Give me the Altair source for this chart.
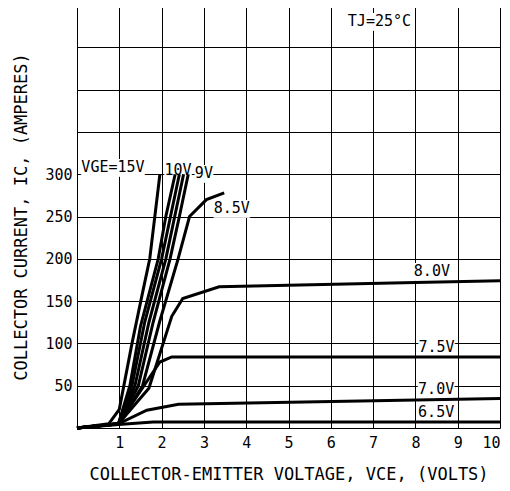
import altair as alt
import pandas as pd

# ---- data ----
curve_names = ["15V", "12V", "11V", "10V", "9V", "8.5V", "8.0V", "7.5V", "7.0V", "6.5V"]

vce_15 = [0, 0.75, 1.0, 1.3, 1.55, 1.72, 1.96]
ic_15 = [0, 5, 22, 100, 160, 200, 300]

vce_a = [0, 0.98, 1.25, 1.5, 1.92, 2.10, 2.32]
ic_a = [0, 5, 50, 120, 200, 250, 300]

vce_b = [0, 0.98, 1.3, 1.6, 2.0, 2.21, 2.42]
ic_b = [0, 5, 50, 125, 200, 250, 300]

vce_c = [0, 0.98, 1.37, 1.7, 2.1, 2.31, 2.52]
ic_c = [0, 5, 50, 125, 200, 250, 300]

vce_9 = [0, 0.98, 1.45, 1.8, 2.2, 2.42, 2.63]
ic_9 = [0, 5, 50, 125, 200, 250, 300]

vce_85 = [0, 0.98, 1.55, 1.95, 2.39, 2.66, 3.06, 3.48]
ic_85 = [0, 5, 50, 125, 200, 250, 270, 278]

vce_80 = [0, 0.98, 1.7, 2.24, 2.5, 3.36, 8.0, 10.0]
ic_80 = [0, 5, 47, 132, 153, 167, 172, 174]

vce_75 = [0, 0.98, 1.96, 2.24, 10.0]
ic_75 = [0, 5, 78, 84, 84]

vce_70 = [0, 0.98, 1.65, 2.4, 10.0]
ic_70 = [0, 5, 21, 28, 35]

vce_65 = [0, 0.98, 1.8, 10.0]
ic_65 = [0, 4, 7, 7]

label_text = ["VGE=15V", "10V", "9V", "8.5V", "8.0V", "7.5V", "7.0V", "6.5V", "TJ=25°C"]
label_x = [0.85, 2.39, 3.0, 3.66, 8.39, 8.5, 8.49, 8.49, 7.15]
label_y = [309, 305, 301, 260, 186, 96, 46.5, 19.5, 481]

x_ticks = list(range(0, 11))
y_ticks = list(range(0, 501, 50))

# ---- build tables ----
series = [
    (vce_15, ic_15), (vce_a, ic_a), (vce_b, ic_b), (vce_c, ic_c), (vce_9, ic_9),
    (vce_85, ic_85), (vce_80, ic_80), (vce_75, ic_75), (vce_70, ic_70), (vce_65, ic_65),
]
rows = []
for name, (xs, ys) in zip(curve_names, series):
    for i, (xv, yv) in enumerate(zip(xs, ys)):
        rows.append({"curve": name, "order": i, "vce": xv, "ic": yv})
df = pd.DataFrame(rows)
labels = pd.DataFrame({"text": label_text, "vce": label_x, "ic": label_y})
labels["box"] = ["\u2588" * len(t) for t in label_text]

FONT = "DejaVu Sans Mono"

xscale = alt.Scale(domain=[0, 10], nice=False, zero=False)
yscale = alt.Scale(domain=[0, 500], nice=False)

lines = alt.Chart(df).mark_line(color="black", strokeWidth=3, strokeJoin="miter").encode(
    x=alt.X("vce:Q", scale=xscale,
            axis=alt.Axis(values=x_ticks, title="COLLECTOR-EMITTER VOLTAGE, VCE, (VOLTS)",
                          labelExpr="datum.value == 0 ? '' : datum.label",
                          grid=True, gridColor="black", gridWidth=1, gridOpacity=1,
                          ticks=False, domain=False, labelPadding=7, titlePadding=16,
                          labelFont=FONT, labelFontSize=15, labelColor="black",
                          titleFont=FONT, titleFontSize=17, titleFontWeight="normal",
                          titleColor="black")),
    y=alt.Y("ic:Q", scale=yscale,
            axis=alt.Axis(values=y_ticks, title="COLLECTOR CURRENT, IC, (AMPERES)",
                          labelExpr="(datum.value >= 50 && datum.value <= 300) ? datum.label : ''",
                          grid=True, gridColor="black", gridWidth=1, gridOpacity=1,
                          ticks=False, domain=False, labelPadding=5, titlePadding=14,
                          labelFont=FONT, labelFontSize=15, labelColor="black",
                          titleFont=FONT, titleFontSize=17, titleFontWeight="normal",
                          titleColor="black")),
    detail="curve:N",
    order="order:Q",
)

boxes = alt.Chart(labels).mark_text(font=FONT, fontSize=15, color="white",
                                    align="center", baseline="middle", dy=1).encode(
    x=alt.X("vce:Q", scale=xscale),
    y=alt.Y("ic:Q", scale=yscale),
    text="box:N",
)

texts = alt.Chart(labels).mark_text(font=FONT, fontSize=15, color="black",
                                    align="center", baseline="middle").encode(
    x=alt.X("vce:Q", scale=xscale),
    y=alt.Y("ic:Q", scale=yscale),
    text="text:N",
)

chart = alt.layer(boxes, lines, texts).properties(
    width=423, height=423,
    autosize=alt.AutoSizeParams(type="none"),
    padding={"left": 69, "top": -3, "right": 2, "bottom": 60},
).configure_view(stroke="black", strokeWidth=1.5).configure(background="white")

chart.save("out.html", embed_options={"renderer": "svg", "actions": False})
